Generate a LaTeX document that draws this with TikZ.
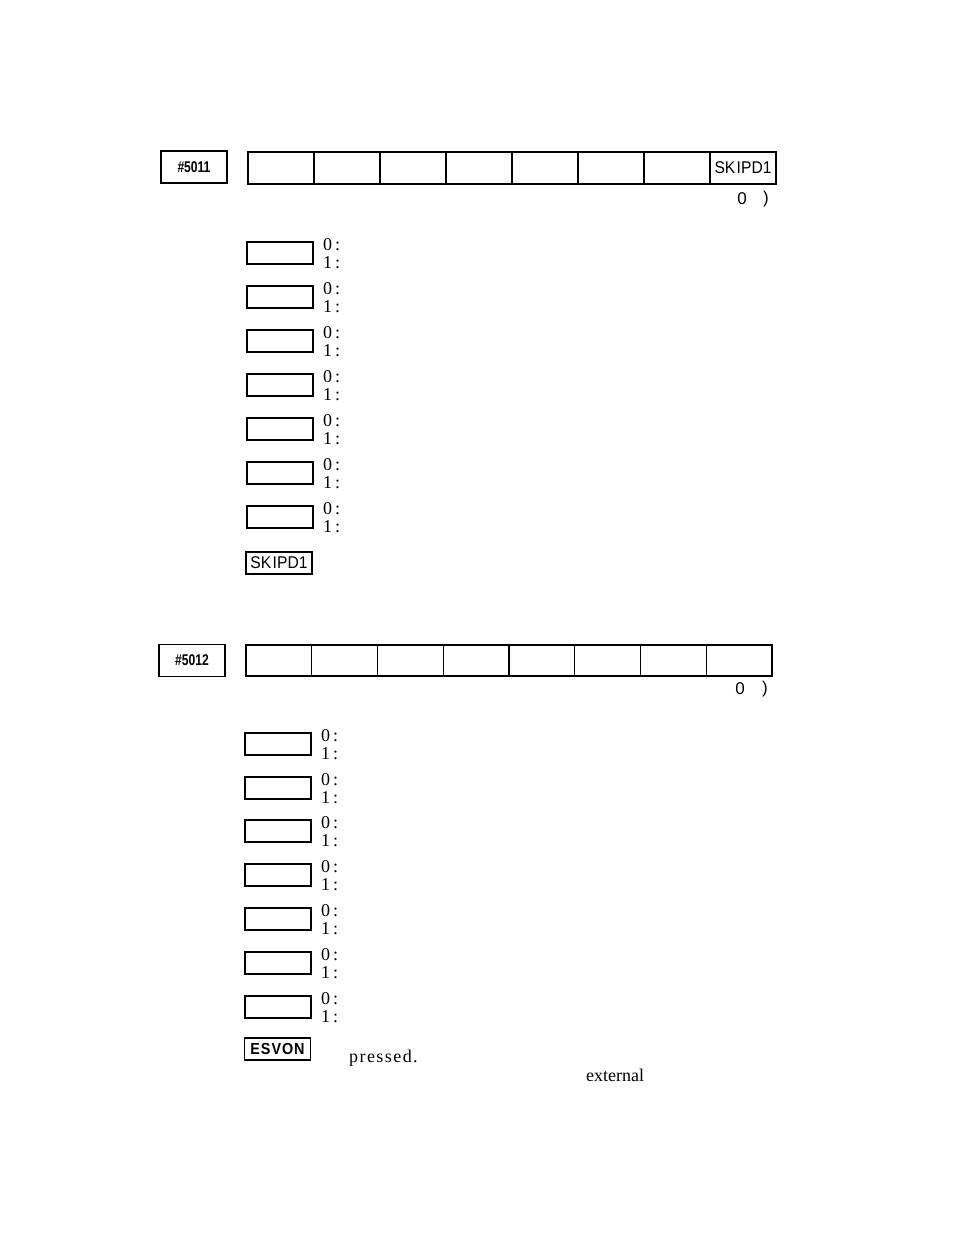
\documentclass[tikz,border=0pt]{standalone}
\usepackage{fontspec}
\setsansfont{Liberation Sans}
\setmainfont{Liberation Serif}
\begin{document}
\begin{tikzpicture}[x=1pt,y=-1pt,
  regcell/.style={draw,line width=1.4pt,minimum width=65.9pt,minimum height=32pt,inner sep=0pt,font=\sffamily\fontsize{17}{17}\selectfont},
  regname/.style={draw,line width=1.2pt,minimum width=66pt,minimum height=32pt,inner sep=0pt,font=\sffamily\bfseries\fontsize{15.5}{15.5}\selectfont},
  bitbox/.style={draw,line width=1.3pt,minimum width=66pt,minimum height=22pt,inner sep=0pt,font=\sffamily\fontsize{17}{17}\selectfont},
  lbl/.style={anchor=west,inner sep=0pt,font=\fontsize{18}{18}\selectfont},
  dft/.style={inner sep=0pt,font=\sffamily\fontsize{17}{17}\selectfont},
  body/.style={anchor=west,inner sep=0pt,font=\fontsize{18}{18}\selectfont}]
\useasboundingbox (0,0) rectangle (954,1239);
% ---------- #5011 ----------
\node[regname] (r1) at (194,167) {\scalebox{0.78}[1]{\#5011}};
\foreach \i in {0,...,6} {
  \node[regcell] (a\i) at ({281+66*\i},168) {};
}
\node[regcell] (a7) at (743,168) {\scalebox{0.92}[1]{SK\kern1.5ptIPD1}};
\node[dft] (z1) at (742,199) {0};
\node[dft] (p1) at (766,199) {)};
\foreach \i/\y in {1/253,2/297,3/341,4/385,5/429,6/473,7/517} {
  \node[bitbox] (b\i) at (280,\y) {};
  \node[lbl] (b\i z) at (323,\y-8) {0\,:};
  \node[lbl] (b\i o) at (323,\y+10) {1\,:};
}
\node[bitbox] (sk) at (279,563) {\scalebox{0.92}[1]{SK\kern1.5ptIPD1}};
% ---------- #5012 ----------
\node[regname] (r2) at (192,660.5) {\scalebox{0.78}[1]{\#5012}};
\foreach \i in {0,...,7} {
  \node[regcell,minimum width=65.75pt,minimum height=31pt] (c\i) at ({278.9+65.75*\i},660.5) {};
}
\node[dft] (z2) at (740,689) {0};
\node[dft] (p2) at (765,689) {)};
\foreach \i/\y in {1/744,2/788,3/831,4/875,5/919,6/963,7/1007} {
  \node[bitbox] (d\i) at (278,\y) {};
  \node[lbl] (d\i z) at (321,\y-8) {0\,:};
  \node[lbl] (d\i o) at (321,\y+10) {1\,:};
}
\node[bitbox,font=\sffamily\bfseries\fontsize{16}{16}\selectfont] (es) at (277.5,1049) {\scalebox{0.9}[1]{E\kern1ptS\kern1ptV\kern1ptO\kern1ptN}};
\node[body] (pr) at (349,1058) {\addfontfeature{LetterSpace=8}pressed.};
\node[body] (ex) at (586,1075) {external};
\end{tikzpicture}
\end{document}
